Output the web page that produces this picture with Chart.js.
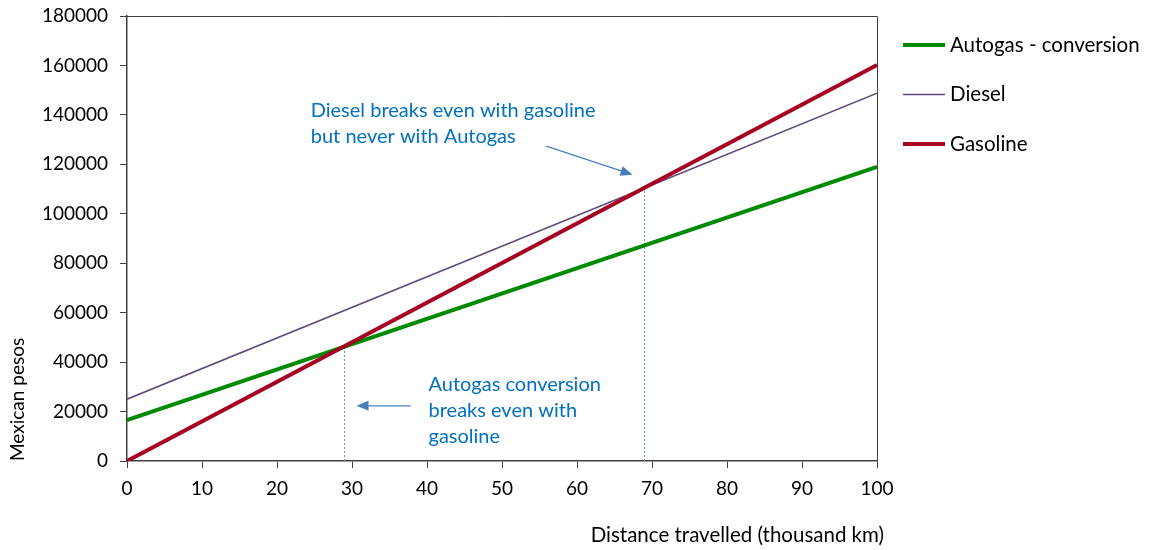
<!DOCTYPE html>
<html>
<head>
<meta charset="utf-8">
<script src="https://cdn.jsdelivr.net/npm/chart.js@4"></script>
<style>
  body { margin: 0; background: #fff; }
  #wrap { width: 1151px; height: 550px; }
</style>
</head>
<body>
<div id="wrap"><canvas id="chart" width="1151" height="550"></canvas></div>
<script>
// distance travelled (thousand km) and cumulative cost in Mexican pesos
const distance = [0, 100];
const autogas = [16500, 119000];
const diesel = [25000, 148800];
const gasoline = [0, 160200];

// break-even markers (x, y)
const breakAutogas = [{ x: 29, y: 0 }, { x: 29, y: 46500 }];
const breakDiesel = [{ x: 69, y: 0 }, { x: 69, y: 110500 }];

const xTickValues = [0, 10, 20, 30, 40, 50, 60, 70, 80, 90, 100];
const yTickValues = [0, 20000, 40000, 60000, 80000, 100000, 120000, 140000, 160000, 180000];

// notes: anchor in data units, arrow from/to in data units
const notes = [
  { lines: ["Diesel breaks even with gasoline", "but never with Autogas"], x: 24.5, y: 141800,
    arrowFrom: [55.9, 127400], arrowTo: [67.4, 115800] },
  { lines: ["Autogas conversion", "breaks even with", "gasoline"], x: 40.2, y: 30800,
    arrowFrom: [37.8, 22300], arrowTo: [30.6, 22300] }
];

const FONT = "Lato, 'Open Sans', sans-serif";
const AXIS = "#404040";

function pts(ys) {
  return distance.map((d, i) => ({ x: d, y: ys[i] }));
}

const extras = {
  id: "extras",
  afterDraw(chart) {
    const ctx = chart.ctx;
    const a = chart.chartArea;
    const xs = chart.scales.x, ys = chart.scales.y;
    ctx.save();
    // top/right frame
    ctx.strokeStyle = AXIS;
    ctx.lineWidth = 1;
    ctx.beginPath();
    ctx.moveTo(a.left, a.top + 0.5);
    ctx.lineTo(a.right + 0.5, a.top + 0.5);
    ctx.lineTo(a.right + 0.5, a.bottom);
    ctx.stroke();

    // x axis title
    ctx.font = "20.5px " + FONT;
    ctx.fillStyle = "#000";
    ctx.textBaseline = "middle";
    ctx.textAlign = "right";
    ctx.fillText("Distance travelled (thousand km)", a.right + 7, 535);

    // notes and arrows
    ctx.font = "20px " + FONT;
    ctx.textAlign = "left";
    notes.forEach(n => {
      const px = xs.getPixelForValue(n.x), py = ys.getPixelForValue(n.y);
      ctx.fillStyle = "#0070C0";
      n.lines.forEach((t, i) => ctx.fillText(t, px, py + i * 26));
      const x1 = xs.getPixelForValue(n.arrowFrom[0]), y1 = ys.getPixelForValue(n.arrowFrom[1]);
      const x2 = xs.getPixelForValue(n.arrowTo[0]), y2 = ys.getPixelForValue(n.arrowTo[1]);
      const ang = Math.atan2(y2 - y1, x2 - x1);
      ctx.strokeStyle = "#4A7EBB";
      ctx.fillStyle = "#4A7EBB";
      ctx.lineWidth = 1.3;
      ctx.beginPath();
      ctx.moveTo(x1, y1);
      ctx.lineTo(x2 - 8 * Math.cos(ang), y2 - 8 * Math.sin(ang));
      ctx.stroke();
      ctx.beginPath();
      ctx.moveTo(x2, y2);
      ctx.lineTo(x2 - 12 * Math.cos(ang) + 5 * Math.sin(ang), y2 - 12 * Math.sin(ang) - 5 * Math.cos(ang));
      ctx.lineTo(x2 - 12 * Math.cos(ang) - 5 * Math.sin(ang), y2 - 12 * Math.sin(ang) + 5 * Math.cos(ang));
      ctx.closePath();
      ctx.fill();
    });

    // legend
    const items = chart.data.datasets.filter(d => !d.helper);
    ctx.font = "20.5px " + FONT;
    items.forEach((d, i) => {
      const y = 45 + i * 49.5;
      ctx.strokeStyle = d.borderColor;
      ctx.lineWidth = d.borderWidth;
      ctx.beginPath();
      ctx.moveTo(903, y);
      ctx.lineTo(945, y);
      ctx.stroke();
      ctx.fillStyle = "#000";
      ctx.fillText(d.label, 950, y);
    });
    ctx.restore();
  }
};

new Chart(document.getElementById("chart"), {
  type: "line",
  data: {
    datasets: [
      { label: "Autogas - conversion", data: pts(autogas), borderColor: "#008A00", borderWidth: 4, order: 2 },
      { label: "Diesel", data: pts(diesel), borderColor: "#604A7B", borderWidth: 1.6, order: 1 },
      { label: "Gasoline", data: pts(gasoline), borderColor: "#A50021", borderWidth: 4, order: 0 },
      { label: "b1", helper: true, data: breakAutogas, borderColor: "#5B9BD5", borderWidth: 1, borderDash: [2, 2], order: 3 },
      { label: "b2", helper: true, data: breakDiesel, borderColor: "#5B9BD5", borderWidth: 1, borderDash: [2, 2], order: 3 }
    ]
  },
  options: {
    responsive: false,
    animation: false,
    layout: { padding: { top: 16, right: 274, left: 0, bottom: 0 } },
    elements: { point: { radius: 0 }, line: { tension: 0, fill: false } },
    plugins: { legend: { display: false }, tooltip: { enabled: false } },
    scales: {
      x: {
        type: "linear", min: 0, max: 100,
        afterBuildTicks: s => { s.ticks = xTickValues.map(v => ({ value: v })); },
        afterFit: s => { s.height = 89; s.paddingLeft = 0; s.paddingRight = 0; },
        grid: { drawOnChartArea: false, drawTicks: true, tickLength: 7, color: AXIS },
        border: { color: AXIS, width: 1.5 },
        ticks: { color: "#000", font: { family: FONT, size: 19 }, padding: 9, maxRotation: 0 },
        title: { display: false }
      },
      y: {
        type: "linear", min: 0, max: 180000,
        afterBuildTicks: s => { s.ticks = yTickValues.map(v => ({ value: v })); },
        afterFit: s => { s.width = 127; s.paddingTop = 0; s.paddingBottom = 0; },
        grid: { drawOnChartArea: false, drawTicks: true, tickLength: 7, color: AXIS },
        border: { color: AXIS, width: 1.5 },
        ticks: { color: "#000", font: { family: FONT, size: 19 }, padding: 12, callback: v => String(v) },
        title: { display: true, text: "Mexican pesos", align: "start", color: "#000",
                 font: { family: FONT, size: 19 }, padding: { top: 6, bottom: 0 } }
      }
    }
  },
  plugins: [extras]
});
</script>
</body>
</html>
